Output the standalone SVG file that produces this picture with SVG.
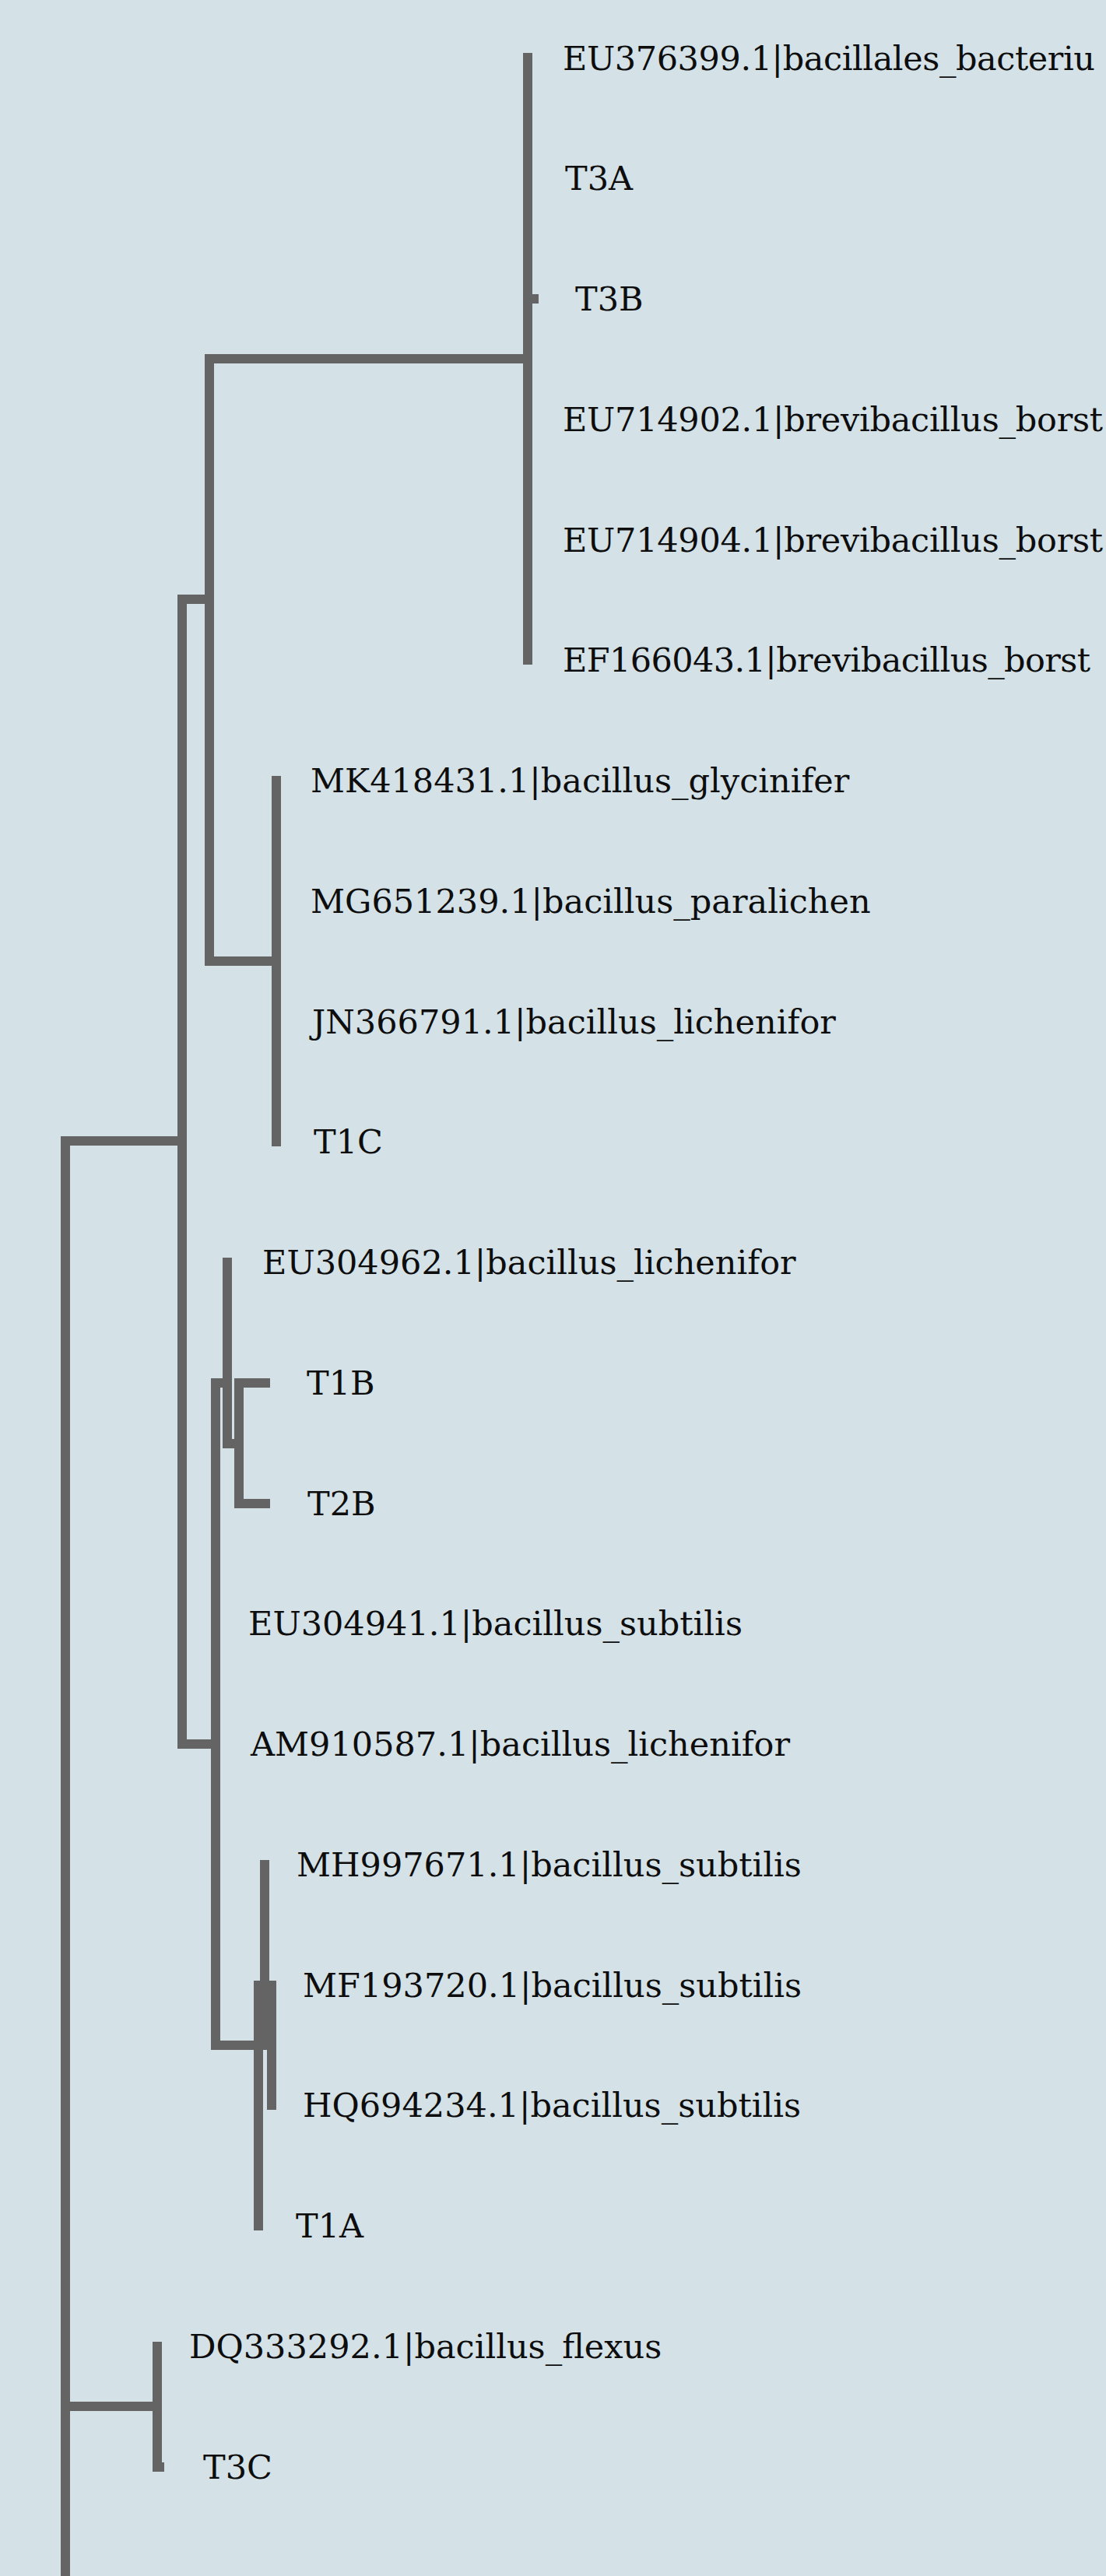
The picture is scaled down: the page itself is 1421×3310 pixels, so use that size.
<svg xmlns="http://www.w3.org/2000/svg" width="1421" height="3310" viewBox="0 0 1421 3310">
<style>
.br{fill:none;stroke:#646464;stroke-width:12;stroke-linecap:square;stroke-linejoin:miter}
.lb{font-family:"DejaVu Serif","Liberation Serif",serif;font-size:43px;fill:#0d0d0d}
</style>
<rect x="0" y="0" width="1421" height="3310" fill="#d4e2e7"/>
<g id="connectors">
<path class="br" d="M84 1466V3330"/>
<path class="br" d="M84 1466H234M234 770V2241"/>
<path class="br" d="M234 770H269M269 461V1235"/>
<path class="br" d="M269 461H678M678 74V848"/>
<path class="br" d="M678 384H686"/>
<path class="br" d="M269 1235H355M355 1003V1467"/>
<path class="br" d="M234 2241H277M277 1777V2628"/>
<path class="br" d="M277 1777H292M292 1622V1855"/>
<path class="br" d="M292 1855H307M307 1777V1932"/>
<path class="br" d="M307 1777H341M307 1932H341"/>
<path class="br" d="M277 2628H332M332 2551V2860"/>
<path class="br" d="M332 2551H340M340 2396V2628"/>
<path class="br" d="M340 2628H349M349 2551V2705"/>
<path class="br" d="M84 3092H202M202 3015V3170"/>
<path class="br" d="M202 3170H205"/>
</g>
<g id="leaf-EU376399"><text class="lb" x="723" y="90" textLength="684">EU376399.1|bacillales_bacteriu</text></g>
<g id="leaf-T3A"><text class="lb" x="726" y="244">T3A</text></g>
<g id="leaf-T3B"><text class="lb" x="739" y="399">T3B</text></g>
<g id="leaf-EU714902"><text class="lb" x="723" y="554" textLength="694">EU714902.1|brevibacillus_borst</text></g>
<g id="leaf-EU714904"><text class="lb" x="723" y="709" textLength="694">EU714904.1|brevibacillus_borst</text></g>
<g id="leaf-EF166043"><text class="lb" x="723" y="863" textLength="678">EF166043.1|brevibacillus_borst</text></g>
<g id="leaf-MK418431"><text class="lb" x="399" y="1018">MK418431.1|bacillus_glycinifer</text></g>
<g id="leaf-MG651239"><text class="lb" x="399" y="1173">MG651239.1|bacillus_paralichen</text></g>
<g id="leaf-JN366791"><text class="lb" x="401" y="1328">JN366791.1|bacillus_lichenifor</text></g>
<g id="leaf-T1C"><text class="lb" x="403" y="1482">T1C</text></g>
<g id="leaf-EU304962"><text class="lb" x="337" y="1637">EU304962.1|bacillus_lichenifor</text></g>
<g id="leaf-T1B"><text class="lb" x="394" y="1792">T1B</text></g>
<g id="leaf-T2B"><text class="lb" x="395" y="1947">T2B</text></g>
<g id="leaf-EU304941"><text class="lb" x="319" y="2101">EU304941.1|bacillus_subtilis</text></g>
<g id="leaf-AM910587"><text class="lb" x="322" y="2256">AM910587.1|bacillus_lichenifor</text></g>
<g id="leaf-MH997671"><text class="lb" x="381" y="2411">MH997671.1|bacillus_subtilis</text></g>
<g id="leaf-MF193720"><text class="lb" x="389" y="2566">MF193720.1|bacillus_subtilis</text></g>
<g id="leaf-HQ694234"><text class="lb" x="389" y="2720">HQ694234.1|bacillus_subtilis</text></g>
<g id="leaf-T1A"><text class="lb" x="380" y="2875">T1A</text></g>
<g id="leaf-DQ333292"><text class="lb" x="243" y="3030">DQ333292.1|bacillus_flexus</text></g>
<g id="leaf-T3C"><text class="lb" x="261" y="3185">T3C</text></g>
</svg>
